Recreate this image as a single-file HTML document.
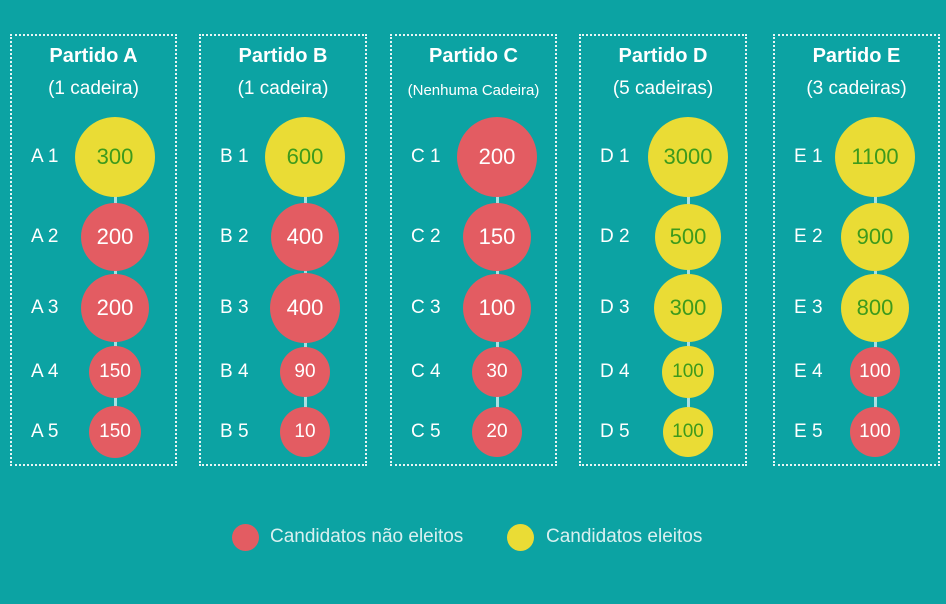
<!DOCTYPE html>
<html><head><meta charset="utf-8"><style>
body{margin:0;width:946px;height:604px;background:#0ca3a3;position:relative;overflow:hidden;font-family:"Liberation Sans",sans-serif;color:#fff}
.box{position:absolute;top:34px;height:432px;border:2px dotted #e8f6f6;box-sizing:border-box}
.t{position:absolute;width:100%;text-align:center;left:0}
.c{position:absolute;border-radius:50%;display:flex;align-items:center;justify-content:center}
.r{background:#e35c62;color:#fff}
.y{background:#eadc35;color:#3d9a1c}
.lbl{position:absolute;font-size:19px;transform:translateY(-50%)}
.ln{position:absolute;width:3px;background:#a9dfe0}
.leg{position:absolute;font-size:19px;color:#d9f0f0}
</style></head><body>
<div id="root"></div>
<div class="c r" style="left:232px;top:524px;width:27px;height:27px"></div>
<div class="leg" style="left:270px;top:526px">Candidatos não eleitos</div>
<div class="c y" style="left:507px;top:524px;width:27px;height:27px"></div>
<div class="leg" style="left:546px;top:526px">Candidatos eleitos</div>
<script>
const parts=[
{l:10,w:167,cx:105,n:"Partido A",s:"(1 cadeira)",p:"A",d:[[300,40,"y"],[200,34,"r"],[200,34,"r"],[150,26,"r"],[150,26,"r"]]},
{l:199,w:168,cx:106,n:"Partido B",s:"(1 cadeira)",p:"B",d:[[600,40,"y"],[400,34,"r"],[400,35,"r"],[90,25,"r"],[10,25,"r"]]},
{l:390,w:167,cx:107,n:"Partido C",s:"(Nenhuma Cadeira)",p:"C",d:[[200,40,"r"],[150,34,"r"],[100,34,"r"],[30,25,"r"],[20,25,"r"]],small:1},
{l:579,w:168,cx:109,n:"Partido D",s:"(5 cadeiras)",p:"D",d:[[3000,40,"y"],[500,33,"y"],[300,34,"y"],[100,26,"y"],[100,25,"y"]]},
{l:773,w:167,cx:102,n:"Partido E",s:"(3 cadeiras)",p:"E",d:[[1100,40,"y"],[900,34,"y"],[800,34,"y"],[100,25,"r"],[100,25,"r"]]}];
const ys=[157,237,308,372,432];
let h="";
for(const p of parts){
 h+=`<div class="box" style="left:${p.l}px;width:${p.w}px"></div>`;
 h+=`<div class="t" style="left:${p.l}px;width:${p.w}px;top:45px;font-size:20px;font-weight:bold">${p.n}</div>`;
 h+=`<div class="t" style="left:${p.l}px;width:${p.w}px;top:${p.small?82:78}px;font-size:${p.small?15:19}px">${p.s}</div>`;
 const cx=p.l+p.cx;
 h+=`<div class="ln" style="left:${cx-1}px;top:160px;height:270px"></div>`;
 p.d.forEach((d,i)=>{const [v,r,c]=d;const fs=r>=33?22:19;
  h+=`<div class="c ${c}" style="left:${cx-r}px;top:${ys[i]-r}px;width:${2*r}px;height:${2*r}px;font-size:${fs}px">${v}</div>`;
  h+=`<div class="lbl" style="left:${p.l+21}px;top:${ys[i]}px">${p.p} ${i+1}</div>`;});
}
document.getElementById("root").innerHTML=h;
</script>
</body></html>
